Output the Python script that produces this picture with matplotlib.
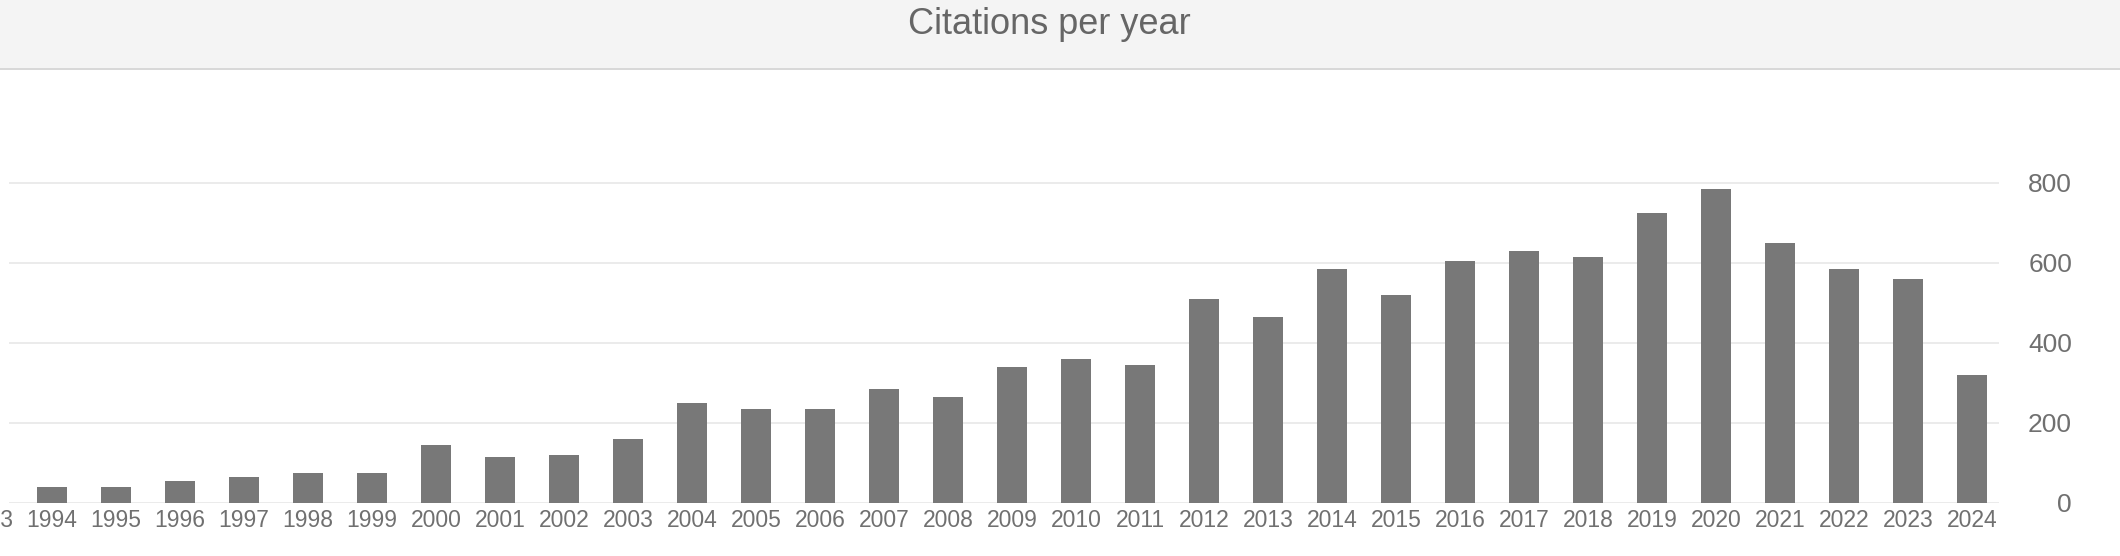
import matplotlib
matplotlib.use("Agg")
import matplotlib.pyplot as plt
from matplotlib.patches import Rectangle
from matplotlib.lines import Line2D
import matplotlib.transforms as mtransforms

years = list(range(1994, 2025))
citations = [40, 40, 55, 65, 75, 75, 145, 115, 120, 160, 250,
             235, 235, 285, 265, 340, 360, 345, 510, 465, 585,
             520, 605, 630, 615, 725, 785, 650, 585, 560, 320]
y_ticks = [0, 200, 400, 600, 800]
title = "Citations per year"

plt.rcParams['font.family'] = ['Liberation Sans', 'DejaVu Sans']

W, H = 2120, 556
DPI = 100
fig = plt.figure(figsize=(W / DPI, H / DPI), dpi=DPI)
fig.patch.set_facecolor('white')

# header band
fig.patches.append(Rectangle((0, 1 - 68 / H), 1, 68 / H, transform=fig.transFigure,
                             facecolor='#f4f4f4', edgecolor='none', zorder=0))
fig.lines.append(Line2D([0, 1], [1 - 69 / H, 1 - 69 / H], transform=fig.transFigure,
                        color='#d8d8d8', linewidth=2 * 72 / DPI))
fig.text(1049 / W, 1 - 33.5 / H, title, ha='center', va='baseline',
         fontsize=26, color='#666666')

# axes geometry
x_left_px, x_right_px = 9, 1999
y_zero_px = 502.5
px_per_unit = 80 / 200.0
ymax = 900
ax_h_px = ymax * px_per_unit
ax = fig.add_axes([x_left_px / W, (H - y_zero_px) / H,
                   (x_right_px - x_left_px) / W, ax_h_px / H])
ax.set_facecolor('none')

ax.bar(years, citations, width=0.47, color='#787878', zorder=2)
ax.set_xlim(1993.33, 2024.42)
ax.set_ylim(0, ymax)

for s in ax.spines.values():
    s.set_visible(False)

ax.set_yticks(y_ticks)
ax.set_yticklabels([str(v) for v in y_ticks])
ax.yaxis.tick_right()
for v in y_ticks:
    ax.axhline(v, color='#ebebeb', linewidth=2 * 72 / DPI, zorder=1)
ax.tick_params(axis='y', length=0, pad=(2072 - x_right_px) * 72 / DPI,
               labelsize=19, labelcolor='#707070')
for lbl in ax.get_yticklabels():
    lbl.set_horizontalalignment('right')

xfs = 16.5
xpad = 5
ax.set_xticks(years)
ax.set_xticklabels([str(y) for y in years])
ax.tick_params(axis='x', length=0, pad=xpad, labelsize=xfs, labelcolor='#707070')

# partially visible label of the preceding year at the left edge
trans = mtransforms.blended_transform_factory(ax.transData, ax.transAxes)
t = ax.text(years[0] - 1, 0, str(years[0] - 1), ha='center', va='top',
            fontsize=xfs, color='#707070', clip_on=False)
t.set_transform(trans + mtransforms.ScaledTranslation(0, -xpad / 72, fig.dpi_scale_trans))

fig.savefig('out.png', dpi=DPI, facecolor='white')
